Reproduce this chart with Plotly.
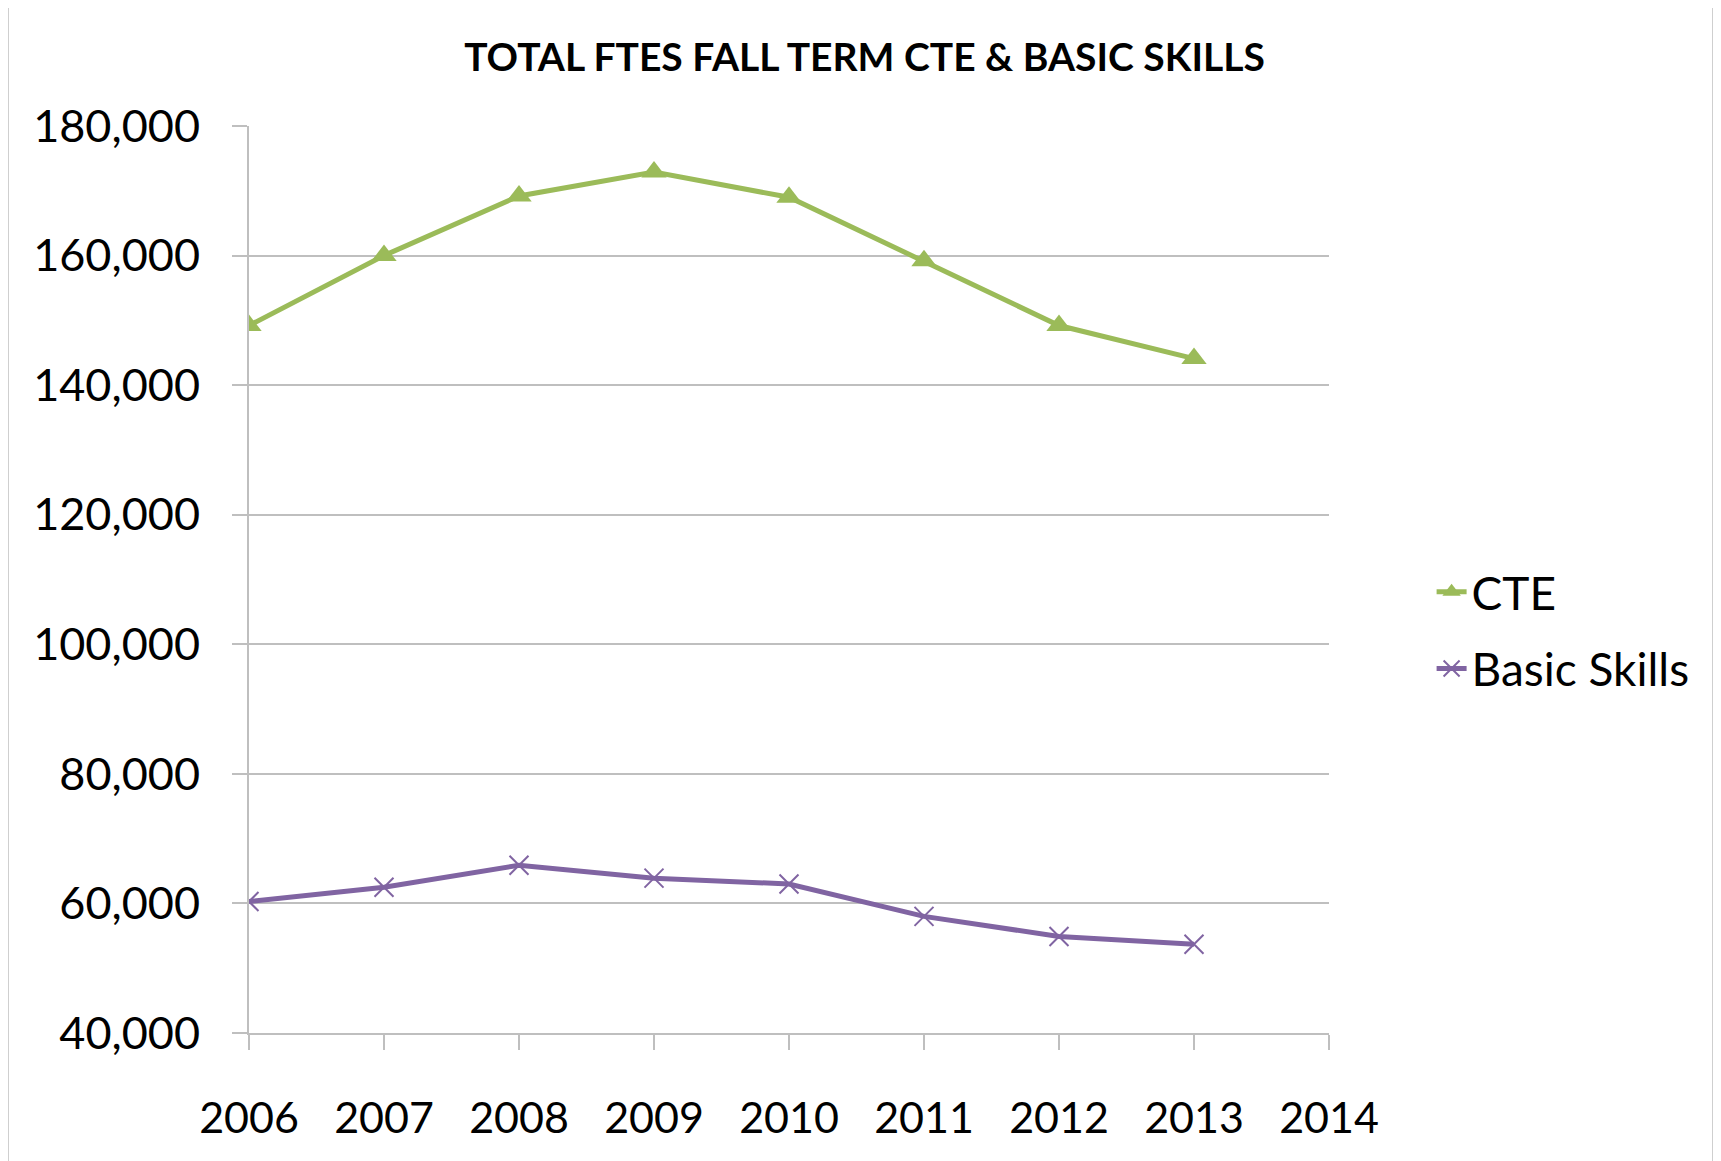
import plotly.graph_objects as go

# chart data
years = [2006, 2007, 2008, 2009, 2010, 2011, 2012, 2013]
cte = [149200, 160000, 169200, 172900, 169000, 159200, 149200, 144100]
basic_skills = [60300, 62500, 65900, 63900, 63000, 58000, 54900, 53700]
x_ticks = [2006, 2007, 2008, 2009, 2010, 2011, 2012, 2013, 2014]
y_ticks = [40000, 60000, 80000, 100000, 120000, 140000, 160000, 180000]

GREEN = "#9BBB59"
PURPLE = "#8064A2"
GRID = "#BFBFBF"
FONT = "Lato"

fig = go.Figure()

fig.add_trace(go.Scatter(
    x=years, y=cte, name="CTE", mode="lines+markers",
    legendgroup="a",
    line=dict(color=GREEN, width=5),
    marker=dict(symbol="triangle-up", size=22, color=GREEN),
))
fig.add_trace(go.Scatter(
    x=years, y=basic_skills, name="Basic Skills", mode="lines+markers",
    legendgroup="b",
    line=dict(color=PURPLE, width=5),
    marker=dict(symbol="x-thin", size=19, line=dict(color=PURPLE, width=2)),
))

# page body has an 8px margin, so the figure is a bit smaller than the window
W, H = 1713, 1153
fig.update_layout(
    width=W, height=H,
    margin=dict(l=241, r=392, t=118, b=128),
    paper_bgcolor="white", plot_bgcolor="white",
    font=dict(family=FONT, size=44, color="#000000"),
    title=dict(text="<b>TOTAL FTES FALL TERM CTE &amp; BASIC SKILLS</b>",
               x=0.5, xanchor="center", y=1 - 49 / H, yanchor="middle",
               font=dict(family=FONT, size=39, color="#000000")),
    legend=dict(x=1.095, xanchor="left", y=0.444, yanchor="middle",
                font=dict(family=FONT, size=46), bgcolor="rgba(0,0,0,0)",
                traceorder="grouped", tracegroupgap=14),
    showlegend=True,
)

fig.update_xaxes(
    range=[2006, 2014], tickvals=x_ticks, ticktext=[str(v) for v in x_ticks],
    showgrid=False, zeroline=False,
    showline=True, linecolor=GRID, linewidth=2,
    ticks="outside", ticklen=15, tickcolor=GRID, tickwidth=2,
    ticklabelstandoff=31, tickfont=dict(size=43),
)
fig.update_yaxes(
    range=[40000, 180000], tickvals=y_ticks, tickformat=",d",
    showgrid=True, gridcolor=GRID, gridwidth=2, zeroline=False,
    showline=True, linecolor=GRID, linewidth=2,
    ticks="outside", ticklen=15, tickcolor=GRID, tickwidth=2,
    ticklabelstandoff=23, tickfont=dict(size=45),
)

# outer frame of the chart (bottom edge falls outside the picture)
fig.add_shape(type="rect", xref="paper", yref="paper",
              x0=(8 - 249) / 1080, x1=(1713 - 249) / 1080,
              y0=(1033 - 1180) / 907, y1=(1033 - 7) / 907,
              line=dict(color="#CFCFCF", width=2), layer="below")

fig.write_html("out.html")
